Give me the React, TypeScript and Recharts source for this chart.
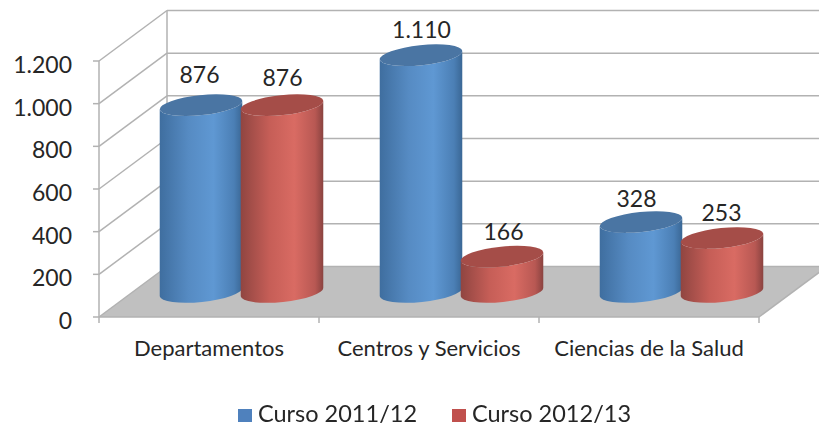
import { BarChart, Bar, XAxis, YAxis, Legend, LabelList, usePlotArea } from "recharts";

const CATEGORIES = ["Departamentos", "Centros y Servicios", "Ciencias de la Salud"];
const CURSO_2011 = [876, 1110, 328];
const CURSO_2012 = [876, 166, 253];
const Y_TICKS = [0, 200, 400, 600, 800, 1000, 1200];
const SERIES_NAMES = ["Curso 2011/12", "Curso 2012/13"];
const SERIES_COLORS = ["#4f81bd", "#c0504d"];

const chartData = CATEGORIES.map((name, i) => ({
  name,
  a: CURSO_2011[i],
  b: CURSO_2012[i],
}));

const FONT = "Lato, sans-serif";
const TEXT = "#262626";
const GRID = "#b2b2b2";

// the 3d box: back wall sits this far away from the front plane
const DEPTH_X = 68;
const DEPTH_Y = 50.5;
// cylinders stand half way into the box
const MID_X = 33;
const MID_Y = 25;

// hand placed label offsets, the original chart does not centre them exactly
const LABEL_NUDGE_A = [[-2, -3], [0, 2], [-5, 4]];
const LABEL_NUDGE_B = [[0, 0], [1, 2], [-1, 2]];

const fmt = (v: number) => String(v).replace(/\B(?=(\d{3})+$)/g, ".");

function Box3D() {
  const plot = usePlotArea();
  if (!plot) return null;
  const left = plot.x;
  const bottom = plot.y + plot.height;
  const right = plot.x + plot.width;
  const max = Y_TICKS[Y_TICKS.length - 1];
  const yOf = (t: number) => bottom - (t / max) * plot.height;
  const band = plot.width / CATEGORIES.length;
  return (
    <g>
      <defs>
        <linearGradient id="blueSide" x1="0" y1="0" x2="1" y2="0">
          <stop offset="0" stopColor="#3f6e9f" />
          <stop offset="0.35" stopColor="#568bc3" />
          <stop offset="0.65" stopColor="#5f98d3" />
          <stop offset="0.9" stopColor="#4b7fb5" />
          <stop offset="1" stopColor="#3a6795" />
        </linearGradient>
        <linearGradient id="redSide" x1="0" y1="0" x2="1" y2="0">
          <stop offset="0" stopColor="#904541" />
          <stop offset="0.35" stopColor="#c65e57" />
          <stop offset="0.65" stopColor="#d96b63" />
          <stop offset="0.9" stopColor="#b85853" />
          <stop offset="1" stopColor="#8a4340" />
        </linearGradient>
      </defs>
      <polygon
        points={`${left},${bottom} ${right},${bottom} ${right + DEPTH_X},${bottom - DEPTH_Y} ${left + DEPTH_X},${bottom - DEPTH_Y}`}
        fill="#c0c0c0"
      />
      <line x1={left + DEPTH_X} x2={left + DEPTH_X} y1={yOf(max) - DEPTH_Y} y2={bottom - DEPTH_Y} stroke={GRID} strokeWidth={1.5} />
      {Y_TICKS.map((t) => (
        <g key={t} stroke={GRID} strokeWidth={1.5}>
          <line x1={left} y1={yOf(t)} x2={left + DEPTH_X} y2={yOf(t) - DEPTH_Y} />
          <line x1={left + DEPTH_X} y1={yOf(t) - DEPTH_Y} x2={right + DEPTH_X} y2={yOf(t) - DEPTH_Y} />
        </g>
      ))}
      <line x1={right} y1={bottom} x2={right + DEPTH_X} y2={bottom - DEPTH_Y} stroke={GRID} strokeWidth={1.5} />
      {/* ticks sit between categories here */}
      {[0, 1, 2, 3].map((i) => (
        <line key={i} x1={left + i * band} x2={left + i * band} y1={bottom} y2={bottom + 6} stroke={GRID} strokeWidth={1.5} />
      ))}
    </g>
  );
}

function Cylinder({ x, y, width, height, side, top }: any) {
  const rx = (width + 2) / 2;
  const ry = 10;
  const rot = -6;
  const rad = (rot * Math.PI) / 180;
  const cx = x + MID_X + width / 2 - 0.5;
  const cyTop = y - MID_Y;
  const cyBase = y + height - MID_Y;
  const ex = rx * Math.cos(rad);
  const ey = rx * Math.sin(rad);
  const body =
    `M${cx - ex},${cyTop - ey} L${cx - ex},${cyBase - ey} ` +
    `A${rx},${ry} ${rot} 0 0 ${cx + ex},${cyBase + ey} ` +
    `L${cx + ex},${cyTop + ey} A${rx},${ry} ${rot} 0 1 ${cx - ex},${cyTop - ey} Z`;
  return (
    <g>
      <path d={body} fill={`url(#${side})`} />
      <ellipse cx={cx} cy={cyTop} rx={rx} ry={ry} fill={top} transform={`rotate(${rot} ${cx} ${cyTop})`} />
    </g>
  );
}

function ValueLabel({ x, y, width, value, index, nudge }: any) {
  const [dx, dy] = nudge[index];
  return (
    <text
      x={x + MID_X + width / 2 + dx}
      y={y - MID_Y - 27 + dy}
      dy={8}
      textAnchor="middle"
      fontFamily={FONT}
      fontSize={23}
      fill={TEXT}
    >
      {fmt(value)}
    </text>
  );
}

function LegendRow() {
  return (
    <div style={{ position: "relative", width: 819, height: 28, fontFamily: FONT, fontSize: 23.5, color: TEXT, lineHeight: "28px" }}>
      {SERIES_NAMES.map((n, i) => (
        <div key={n} style={{ position: "absolute", left: 238 + i * 214, top: 0, width: 190, height: 28, whiteSpace: "nowrap" }}>
          <span style={{ display: "inline-block", width: 14, height: 13, background: SERIES_COLORS[i], marginRight: 6 }} />
          {n}
        </div>
      ))}
    </div>
  );
}

export default function App() {
  return (
    <div style={{ position: "absolute", left: 0, top: 0, width: 819, height: 425, background: "#fff", filter: "blur(0.5px)" }}>
      <BarChart
        width={819}
        height={425}
        data={chartData}
        margin={{ top: 61, right: 60, bottom: 68, left: 39 }}
        barCategoryGap={29}
        barGap={0}
      >
        <Box3D />
        <XAxis
          dataKey="name"
          height={40}
          tickLine={false}
          tickSize={6}
          tickMargin={17}
          interval={0}
          stroke={GRID}
          strokeWidth={1.5}
          tick={{ fontFamily: FONT, fontSize: 22, fill: TEXT }}
        />
        <YAxis
          width={60}
          domain={[0, 1200]}
          ticks={Y_TICKS}
          tickFormatter={fmt}
          tickSize={6}
          tickMargin={21}
          stroke={GRID}
          strokeWidth={1.5}
          tick={{ fontFamily: FONT, fontSize: 23, fill: TEXT, dy: 4 }}
        />
        <Legend
          layout="horizontal"
          verticalAlign="middle"
          align="center"
          wrapperStyle={{ top: 399, left: 0, width: 819, height: 28 }}
          content={<LegendRow />}
        />
        <Bar
          dataKey="a"
          name={SERIES_NAMES[0]}
          fill={SERIES_COLORS[0]}
          isAnimationActive={false}
          shape={(p: any) => <Cylinder {...p} side="blueSide" top="#4a75a3" />}
        >
          <LabelList dataKey="a" content={<ValueLabel nudge={LABEL_NUDGE_A} />} />
        </Bar>
        <Bar
          dataKey="b"
          name={SERIES_NAMES[1]}
          fill={SERIES_COLORS[1]}
          isAnimationActive={false}
          shape={(p: any) => <Cylinder {...p} side="redSide" top="#a54d48" />}
        >
          <LabelList dataKey="b" content={<ValueLabel nudge={LABEL_NUDGE_B} />} />
        </Bar>
      </BarChart>
    </div>
  );
}
